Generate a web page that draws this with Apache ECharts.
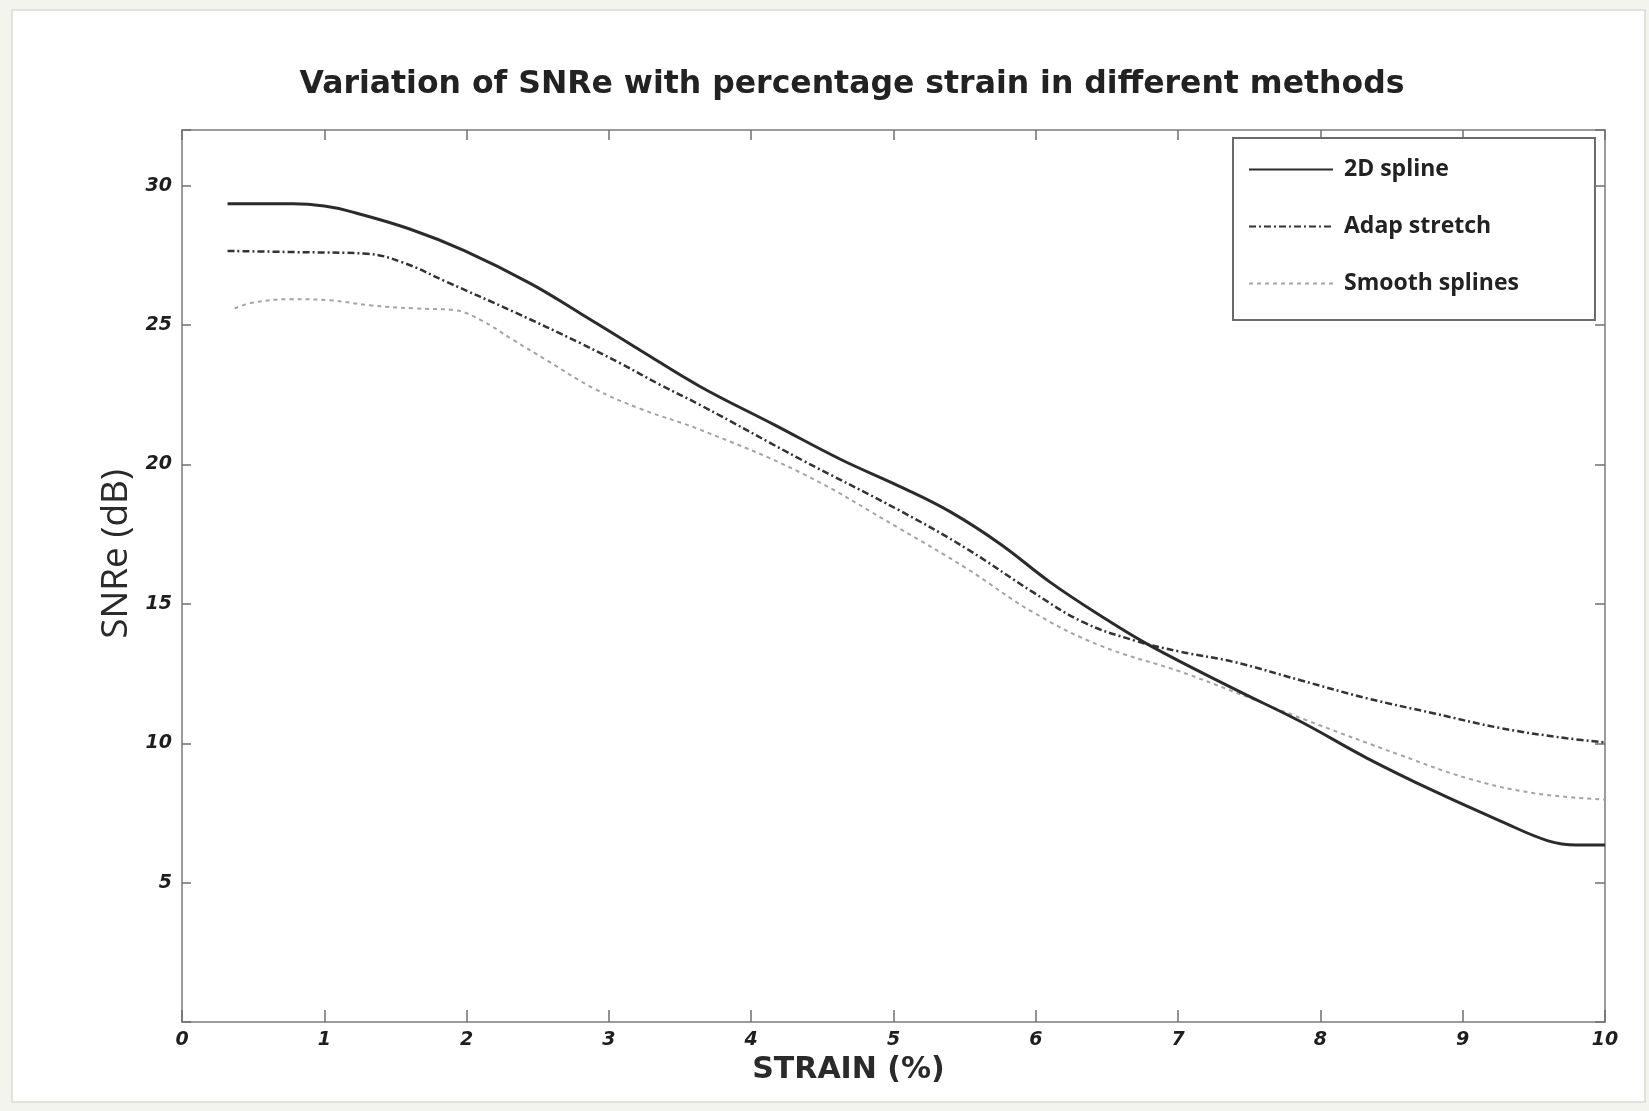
<!DOCTYPE html>
<html>
<head>
<meta charset="utf-8">
<style>
  html, body { margin: 0; padding: 0; background: #f4f4ee; }
  #chart { width: 1649px; height: 1111px; }
</style>
<script src="https://cdn.jsdelivr.net/npm/echarts@6/dist/echarts.min.js"></script>
</head>
<body>
<div id="chart"></div>
<script>
// Strain (%) vs SNRe (dB) for three displacement-estimation methods
const seriesNames = ['2D spline', 'Adap stretch', 'Smooth splines'];

const spline2D = [
  [0.32, 29.35], [0.78, 29.35], [1.0, 29.27], [1.18, 29.08], [1.6, 28.45],
  [1.98, 27.68], [2.45, 26.49], [2.8, 25.42], [3.22, 24.1], [3.64, 22.8],
  [4.16, 21.43], [4.63, 20.18], [5.05, 19.2], [5.4, 18.3], [5.75, 17.15],
  [6.1, 15.78], [6.45, 14.59], [6.8, 13.51], [7.39, 11.96], [7.86, 10.78],
  [8.33, 9.46], [8.8, 8.28], [9.27, 7.2], [9.6, 6.5], [9.8, 6.35], [10, 6.35]
];

const adapStretch = [
  [0.32, 27.66], [0.8, 27.62], [1.3, 27.56], [1.55, 27.25], [1.86, 26.55],
  [2.33, 25.48], [2.8, 24.35], [3.08, 23.63], [3.36, 22.86], [3.64, 22.14],
  [4.35, 20.18], [5.05, 18.33], [5.52, 16.96], [5.98, 15.42], [6.33, 14.35],
  [6.69, 13.69], [7.02, 13.28], [7.39, 12.92], [7.86, 12.26], [8.33, 11.61],
  [8.8, 11.07], [9.27, 10.54], [9.73, 10.18], [10, 10.03]
];

const smoothSplines = [
  [0.37, 25.6], [0.5, 25.81], [0.76, 25.93], [1.04, 25.89], [1.32, 25.71],
  [1.63, 25.6], [1.91, 25.54], [2.1, 25.18], [2.33, 24.46], [2.56, 23.75],
  [2.89, 22.74], [3.22, 22.0], [3.64, 21.25], [4.35, 19.7], [5.05, 17.68],
  [5.52, 16.25], [5.98, 14.7], [6.45, 13.51], [7.02, 12.56], [7.39, 11.85],
  [7.9, 10.83], [8.56, 9.58], [9.03, 8.75], [9.5, 8.21], [10, 7.98]
];

const xTicks = [0, 1, 2, 3, 4, 5, 6, 7, 8, 9, 10];
const yTickLabels = [5, 10, 15, 20, 25, 30];

const chart = echarts.init(document.getElementById('chart'), null, { renderer: 'canvas' });

const frameColor = '#9c9c9c';
const tickColor = '#6f6f6f';
const labelFont = {
  color: '#1e1e1e',
  fontFamily: 'DejaVu Sans',
  fontWeight: 'bold',
  fontStyle: 'italic',
  fontSize: 19
};

// plain frame axis used on the top and right edges (ticks only, no labels)
function mirrorAxis(extra) {
  return Object.assign({
    type: 'value',
    axisLine: { show: true, onZero: false, lineStyle: { color: frameColor, width: 2 } },
    axisTick: { show: true, inside: true, length: 10, lineStyle: { color: tickColor, width: 1.5 } },
    axisLabel: { show: false },
    splitLine: { show: false }
  }, extra);
}

chart.setOption({
  backgroundColor: '#f4f4ee',
  animation: false,
  graphic: [{
    type: 'rect',
    z: -10,
    silent: true,
    shape: { x: 12, y: 10, width: 1633, height: 1092 },
    style: { fill: '#ffffff', stroke: '#e2e2da', lineWidth: 2 }
  }],
  title: {
    text: 'Variation of SNRe with percentage strain in different methods',
    left: 847,
    top: 64,
    textAlign: 'center',
    textStyle: {
      fontFamily: 'DejaVu Sans',
      fontWeight: 'bold',
      fontSize: 31.5,
      color: '#222222'
    }
  },
  legend: {
    orient: 'vertical',
    left: 1233,
    top: 138,
    data: seriesNames,
    itemWidth: 84,
    itemHeight: 14,
    itemGap: 34,
    padding: [20, 76, 25, 15],
    backgroundColor: '#ffffff',
    borderColor: '#6a6a6a',
    borderWidth: 2,
    borderRadius: 0,
    itemStyle: { opacity: 0, borderWidth: 0 },
    textStyle: {
      fontFamily: 'Open Sans',
      fontWeight: 'bold',
      fontSize: 23,
      color: '#222222',
      padding: [0, 0, 0, 6]
    }
  },
  grid: { left: 182, right: 44, top: 130, bottom: 89, containLabel: false },
  xAxis: [{
    type: 'value',
    position: 'bottom',
    min: 0,
    max: 10,
    interval: 1,
    name: 'STRAIN (%)',
    nameLocation: 'middle',
    nameGap: 30,
    nameTextStyle: {
      fontFamily: 'DejaVu Sans',
      fontWeight: 'bold',
      fontSize: 30,
      color: '#2a2a2a',
      padding: [0, 90, 0, 0]
    },
    axisLine: { show: true, lineStyle: { color: frameColor, width: 2 } },
    axisTick: { show: true, inside: true, length: 12, lineStyle: { color: tickColor, width: 1.5 } },
    axisLabel: Object.assign({ margin: 9, formatter: v => (xTicks.indexOf(v) >= 0 ? String(v) : '') }, labelFont),
    splitLine: { show: false }
  }, mirrorAxis({ position: 'top', min: 0, max: 10, interval: 1 })],
  yAxis: [{
    type: 'value',
    position: 'left',
    min: 0,
    max: 32,
    interval: 5,
    name: 'SNRe (dB)',
    nameLocation: 'middle',
    nameGap: 32,
    nameTextStyle: {
      fontFamily: 'Open Sans',
      fontWeight: 'normal',
      fontSize: 37,
      color: '#2a2a2a',
      padding: [0, 0, 0, 44]
    },
    axisLine: { show: true, lineStyle: { color: frameColor, width: 2 } },
    axisTick: { show: true, inside: true, length: 9, lineStyle: { color: tickColor, width: 1.5 } },
    axisLabel: Object.assign({ margin: 10, formatter: v => (yTickLabels.indexOf(v) >= 0 ? String(v) : '') }, labelFont),
    splitLine: { show: false }
  }, mirrorAxis({ position: 'right', min: 0, max: 32, interval: 5 })],
  series: [{
    name: seriesNames[0],
    type: 'line',
    data: spline2D,
    smooth: 0.4,
    symbol: 'none',
    color: '#2b2b2b',
    lineStyle: { color: '#2b2b2b', width: 3, type: 'solid' },
    z: 3
  }, {
    name: seriesNames[1],
    type: 'line',
    data: adapStretch,
    smooth: 0.4,
    symbol: 'none',
    color: '#333333',
    lineStyle: { color: '#333333', width: 2.5, type: [7, 3, 2, 3] },
    z: 2
  }, {
    name: seriesNames[2],
    type: 'line',
    data: smoothSplines,
    smooth: 0.4,
    symbol: 'none',
    color: '#a4a4a4',
    lineStyle: { color: '#a4a4a4', width: 2, type: [4, 4] },
    z: 1
  }]
});
</script>
</body>
</html>
